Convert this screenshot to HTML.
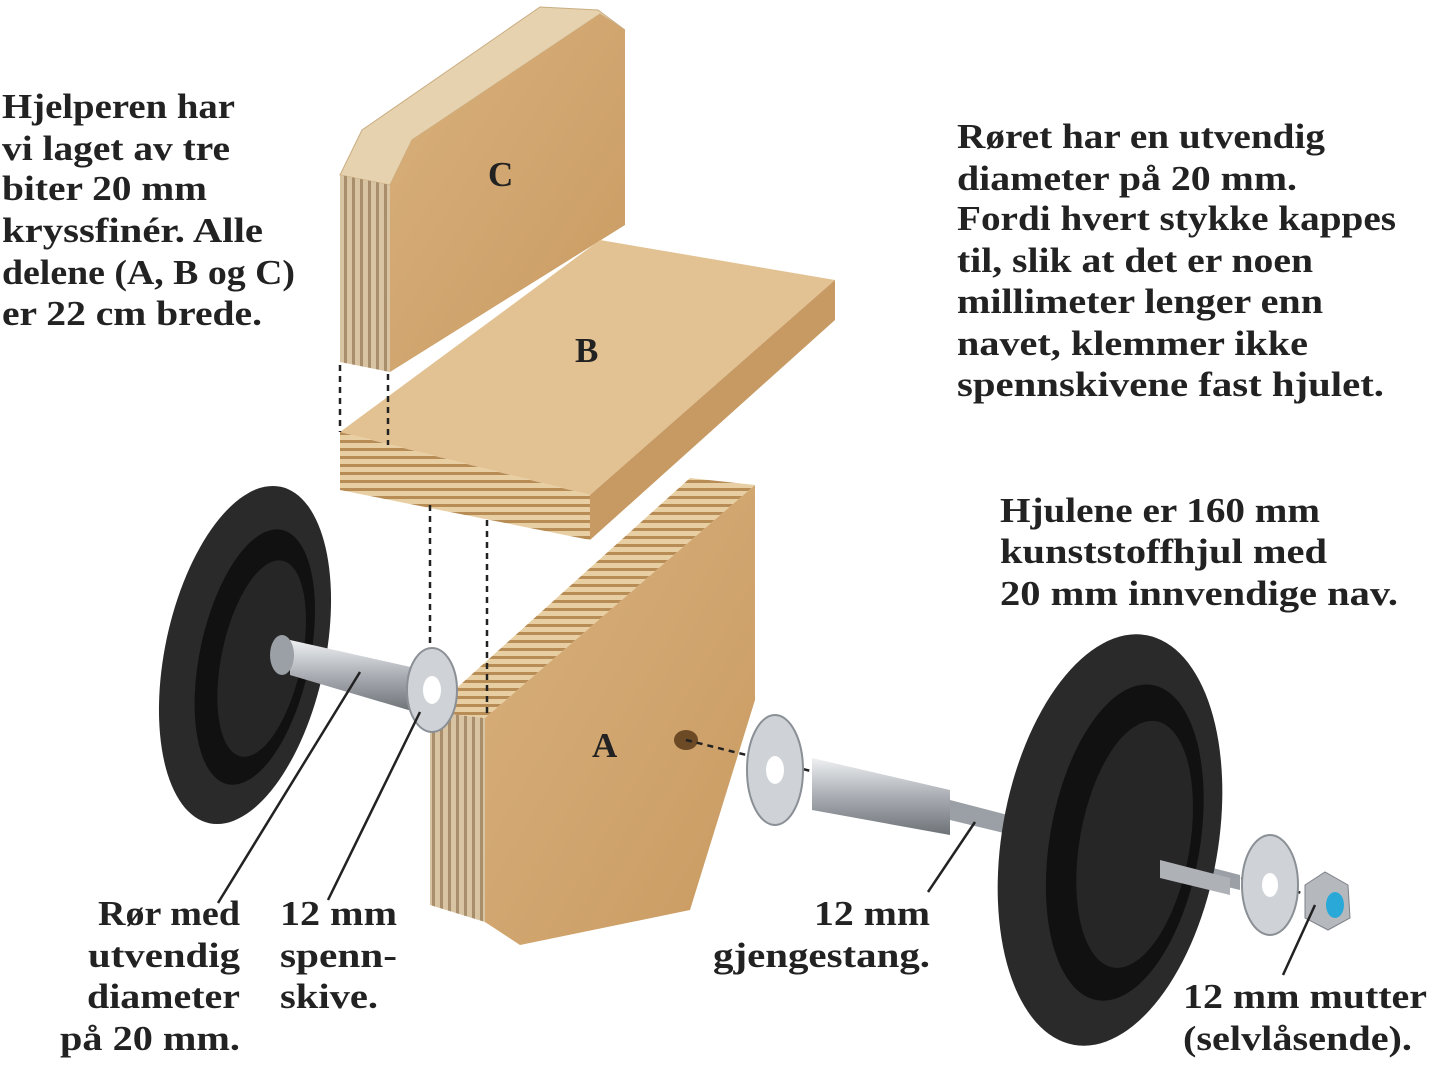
<!DOCTYPE html>
<html><head><meta charset="utf-8"><style>
html,body{margin:0;padding:0;background:#fff;}
svg{display:block;}
text{font-family:"Liberation Serif","DejaVu Serif",serif;font-weight:bold;font-size:35px;fill:#222;}
</style></head><body>
<svg width="1429" height="1071" viewBox="0 0 1429 1071" xmlns="http://www.w3.org/2000/svg">
<defs>
<linearGradient id="wood" x1="0" y1="0" x2="1" y2="1">
<stop offset="0" stop-color="#d9b07c"/><stop offset="1" stop-color="#c99b62"/></linearGradient>
<pattern id="ply" width="8" height="8" patternUnits="userSpaceOnUse">
<rect width="8" height="8" fill="#e8cfa3"/><rect width="8" height="3" fill="#b88c55"/></pattern>
<pattern id="plyv" width="8" height="8" patternUnits="userSpaceOnUse">
<rect width="8" height="8" fill="#d8c4a3"/><rect width="3" height="8" fill="#a88e6a"/></pattern>
<linearGradient id="metal" x1="0" y1="0" x2="0" y2="1">
<stop offset="0" stop-color="#eef0f2"/><stop offset=".5" stop-color="#a9adb3"/><stop offset="1" stop-color="#6d7277"/></linearGradient>
</defs>
<!-- Board C -->
<polygon points="340,175 362,130 540,7 598,10 625,30 600,14 412,140 390,185" fill="#e6d2ae" stroke="#c9ad82" stroke-width="1"/>
<polygon points="340,175 390,185 390,372 340,362" fill="url(#plyv)"/>
<polygon points="390,185 412,140 600,14 625,30 625,225 390,372" fill="url(#wood)"/>
<!-- Board B -->
<polygon points="340,432 600,240 835,280 590,495" fill="#e2c293"/>
<polygon points="340,432 590,495 590,540 340,490" fill="url(#ply)"/>
<polygon points="590,495 835,280 835,320 590,540" fill="#c79a63"/>
<!-- Board A -->
<polygon points="430,712 690,478 755,485 485,718" fill="url(#ply)"/>
<polygon points="430,712 485,718 485,922 430,905" fill="url(#plyv)"/>
<polygon points="485,718 755,485 755,700 690,910 520,945 485,922" fill="url(#wood)"/>
<ellipse cx="686" cy="740" rx="12" ry="10" fill="#6b4a25"/>
<!-- dashed -->
<g stroke="#222" stroke-width="2.5" stroke-dasharray="6,5" fill="none">
<line x1="340" y1="365" x2="340" y2="432"/><line x1="388" y1="374" x2="388" y2="445"/>
<line x1="430" y1="505" x2="430" y2="712"/><line x1="487" y1="520" x2="487" y2="716"/>
<line x1="686" y1="740" x2="1330" y2="900"/></g>
<!-- left wheel -->
<g transform="rotate(12 245 655)">
<ellipse cx="245" cy="655" rx="80" ry="172" fill="#2a2a2a"/>
<ellipse cx="255" cy="655" rx="55" ry="130" fill="#111"/>
<ellipse cx="262" cy="655" rx="40" ry="100" fill="#262626"/></g>
<!-- left pipe -->
<polygon points="290,640 415,668 415,712 290,675" fill="url(#metal)"/>
<ellipse cx="282" cy="655" rx="12" ry="20" fill="#9aa0a6"/>
<ellipse cx="432" cy="690" rx="25" ry="42" fill="#cfd3d7" stroke="#8a9096" stroke-width="2"/>
<ellipse cx="432" cy="690" rx="9" ry="14" fill="#fff"/>
<!-- right assembly -->
<ellipse cx="775" cy="770" rx="28" ry="55" fill="#cfd3d7" stroke="#8a9096" stroke-width="2"/>
<ellipse cx="775" cy="770" rx="9" ry="14" fill="#fff"/>
<polygon points="812,758 950,790 950,835 812,810" fill="url(#metal)"/>
<polygon points="950,800 1240,875 1240,890 950,820" fill="#9aa0a6"/>
<g transform="rotate(10 1110 840)">
<ellipse cx="1110" cy="840" rx="108" ry="208" fill="#2a2a2a"/>
<ellipse cx="1125" cy="840" rx="75" ry="160" fill="#111"/>
<ellipse cx="1135" cy="840" rx="55" ry="125" fill="#262626"/></g>
<polygon points="1160,860 1230,878 1230,895 1160,878" fill="#aeb2b7"/>
<ellipse cx="1270" cy="885" rx="28" ry="50" fill="#cfd3d7" stroke="#8a9096" stroke-width="2"/>
<ellipse cx="1270" cy="885" rx="8" ry="12" fill="#fff"/>
<polygon points="1305,885 1325,872 1348,885 1350,918 1328,930 1305,918" fill="#b5b9be" stroke="#7d8288"/>
<ellipse cx="1335" cy="905" rx="9" ry="13" fill="#2aa9d8"/>
<!-- leaders -->
<g stroke="#222" stroke-width="2.5">
<line x1="360" y1="672" x2="218" y2="903"/><line x1="420" y1="712" x2="328" y2="900"/>
<line x1="975" y1="822" x2="928" y2="892"/><line x1="1315" y1="905" x2="1283" y2="975"/></g>
<text x="488" y="186" font-size="30">C</text>
<text x="575" y="362" font-size="30">B</text>
<text x="592" y="757" font-size="30">A</text>
<g>
<text x="2" y="118" textLength="233" lengthAdjust="spacingAndGlyphs">Hjelperen har</text>
<text x="2" y="160" textLength="228" lengthAdjust="spacingAndGlyphs">vi laget av tre</text>
<text x="2" y="200" textLength="205" lengthAdjust="spacingAndGlyphs">biter 20 mm</text>
<text x="2" y="242" textLength="261" lengthAdjust="spacingAndGlyphs">kryssfinér. Alle</text>
<text x="2" y="284" textLength="293" lengthAdjust="spacingAndGlyphs">delene (A, B og C)</text>
<text x="2" y="325" textLength="260" lengthAdjust="spacingAndGlyphs">er 22 cm brede.</text>
<text x="957" y="148" textLength="368" lengthAdjust="spacingAndGlyphs">Røret har en utvendig</text>
<text x="957" y="190" textLength="340" lengthAdjust="spacingAndGlyphs">diameter på 20 mm.</text>
<text x="957" y="230" textLength="439" lengthAdjust="spacingAndGlyphs">Fordi hvert stykke kappes</text>
<text x="957" y="272" textLength="356" lengthAdjust="spacingAndGlyphs">til, slik at det er noen</text>
<text x="957" y="313" textLength="366" lengthAdjust="spacingAndGlyphs">millimeter lenger enn</text>
<text x="957" y="355" textLength="351" lengthAdjust="spacingAndGlyphs">navet, klemmer ikke</text>
<text x="957" y="396" textLength="427" lengthAdjust="spacingAndGlyphs">spennskivene fast hjulet.</text>
<text x="1000" y="522" textLength="320" lengthAdjust="spacingAndGlyphs">Hjulene er 160 mm</text>
<text x="1000" y="563" textLength="327" lengthAdjust="spacingAndGlyphs">kunststoffhjul med</text>
<text x="1000" y="605" textLength="398" lengthAdjust="spacingAndGlyphs">20 mm innvendige nav.</text>
<text x="98" y="925" textLength="142" lengthAdjust="spacingAndGlyphs">Rør med</text>
<text x="88" y="967" textLength="152" lengthAdjust="spacingAndGlyphs">utvendig</text>
<text x="87" y="1008" textLength="153" lengthAdjust="spacingAndGlyphs">diameter</text>
<text x="60" y="1050" textLength="180" lengthAdjust="spacingAndGlyphs">på 20 mm.</text>
<text x="280" y="925" textLength="117" lengthAdjust="spacingAndGlyphs">12 mm</text>
<text x="280" y="967" textLength="117" lengthAdjust="spacingAndGlyphs">spenn-</text>
<text x="280" y="1008" textLength="98" lengthAdjust="spacingAndGlyphs">skive.</text>
<text x="814" y="925" textLength="116" lengthAdjust="spacingAndGlyphs">12 mm</text>
<text x="713" y="967" textLength="217" lengthAdjust="spacingAndGlyphs">gjengestang.</text>
<text x="1183" y="1008" textLength="244" lengthAdjust="spacingAndGlyphs">12 mm mutter</text>
<text x="1183" y="1050" textLength="229" lengthAdjust="spacingAndGlyphs">(selvlåsende).</text>
</g>
</svg>
</body></html>
